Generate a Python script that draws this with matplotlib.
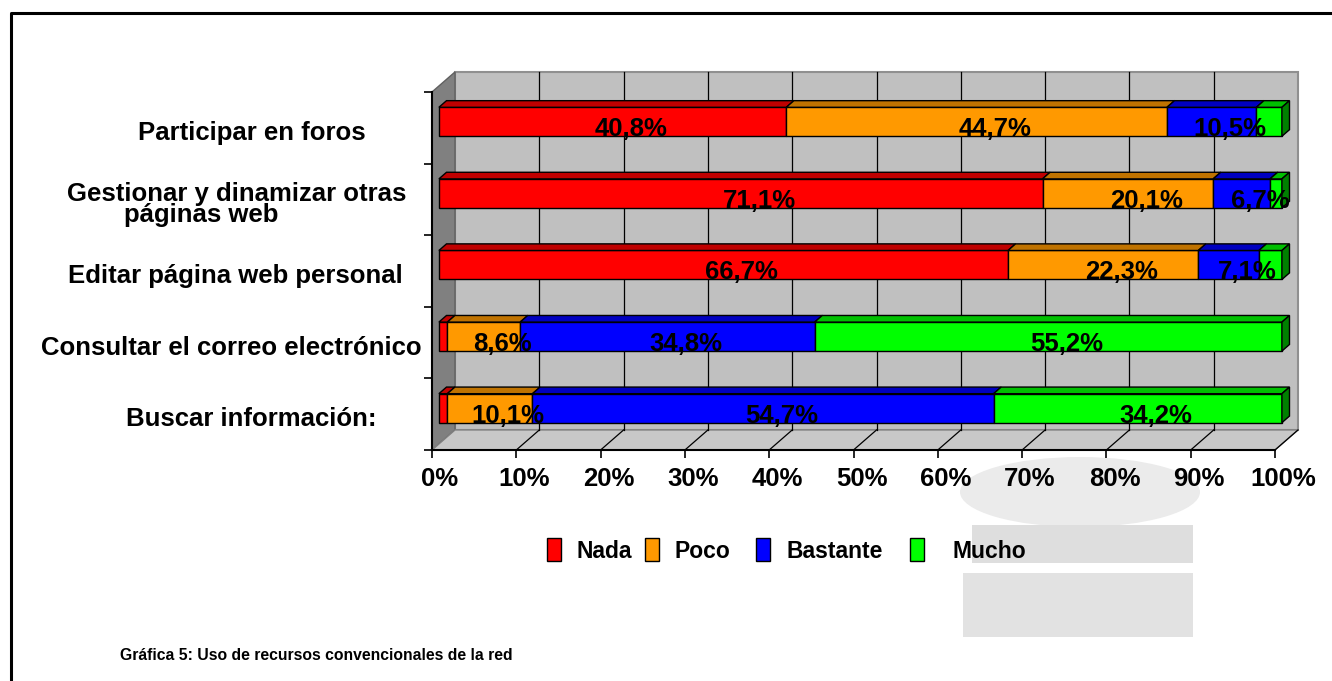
import numpy as np
import matplotlib
matplotlib.use("Agg")
import matplotlib.pyplot as plt
from matplotlib.patches import Polygon, Rectangle, Ellipse
from matplotlib.transforms import Affine2D, ScaledTranslation

plt.rcParams['font.family'] = ['Liberation Sans', 'DejaVu Sans']
plt.rcParams['font.weight'] = 'bold'

# data (bottom to top)
categories = ["Buscar información:", "Consultar el correo electrónico",
              "Editar página web personal",
              "Gestionar y dinamizar otras\n        páginas web",
              "Participar en foros"]
series = ["Nada", "Poco", "Bastante", "Mucho"]
nada = [1.0, 1.0, 66.7, 71.1, 40.8]
poco = [10.1, 8.6, 22.3, 20.1, 44.7]
bastante = [54.7, 34.8, 7.1, 6.7, 10.5]
mucho = [34.2, 55.2, 2.7, 1.4, 3.0]
xticks = [0, 10, 20, 30, 40, 50, 60, 70, 80, 90, 100]
caption = "Gráfica 5: Uso de recursos convencionales de la red"

front = ["#FF0000", "#FF9900", "#0000FF", "#00FF00"]
top = ["#C00000", "#C07300", "#0000C0", "#00C000"]
side = ["#800000", "#805000", "#000080", "#008000"]

W, H = 1332, 681
fig = plt.figure(figsize=(W / 100, H / 100), dpi=100)
px = Affine2D().scale(1 / W, -1 / H).translate(0, 1) + fig.transFigure

# faint watermark behind everything
wm_shapes = [(Ellipse((1080, 492), 240, 70), "#EBEBEB"),
             (Rectangle((972, 525), 221, 38), "#DEDEDE"),
             (Rectangle((963, 573), 230, 64), "#E2E2E2")]
for p, c in wm_shapes:
    p.set_transform(px)
    p.set_facecolor(c)
    p.set_edgecolor("none")
    p.set_zorder(0)
    fig.add_artist(p)

ax = fig.add_axes([432 / W, (H - 450) / H, 843 / W, 358 / H])
ax.set_xlim(0, 100)
ax.set_ylim(0, 5)
ax.patch.set_visible(False)
for s in ["top", "right"]:
    ax.spines[s].set_visible(False)
for s in ["left", "bottom"]:
    ax.spines[s].set_linewidth(1.5)
    ax.spines[s].set_zorder(10)

# depth of the 3D box in data units
dx, dy = 2.73, 0.28
n = len(categories)

def poly(pts, fc, ec="none", lw=1.0, z=1):
    ax.add_patch(Polygon(pts, closed=True, facecolor=fc, edgecolor=ec,
                         linewidth=lw, zorder=z, clip_on=False))

# walls and floor
poly([(dx, dy), (100 + dx, dy), (100 + dx, n + dy), (dx, n + dy)], "#C0C0C0", "#909090", 1.5)
poly([(0, 0), (dx, dy), (dx, n + dy), (0, n)], "#808080", "#606060", 1.0)
poly([(0, 0), (100, 0), (100 + dx, dy), (dx, dy)], "#C8C8C8", "#808080", 1.0)
for t in xticks[1:-1]:
    ax.plot([t + dx, t + dx], [dy, n + dy], color="black", lw=0.9, zorder=2, clip_on=False)
for t in xticks[1:]:
    ax.plot([t, t + dx], [0, dy], color="black", lw=0.9, zorder=2, clip_on=False)

# stacked 3D bars
vals = np.array([nada, poco, bastante, mucho])
totals = vals.sum(axis=0)
f0, f1 = 0.3, 0.63
bh = 0.405
for i in range(n):
    left = 0.0
    yb = i + 0.5 + f0 * dy - bh / 2
    for k in range(len(series)):
        w = vals[k, i] / totals[i] * 100
        x0 = left + f0 * dx
        x1 = x0 + w
        ox, oy = (f1 - f0) * dx, (f1 - f0) * dy
        poly([(x0, yb), (x1, yb), (x1, yb + bh), (x0, yb + bh)], front[k], "black", 1.0, 3)
        poly([(x0, yb + bh), (x1, yb + bh), (x1 + ox, yb + bh + oy), (x0 + ox, yb + bh + oy)],
             top[k], "black", 1.0, 3)
        if k == len(series) - 1:
            poly([(x1, yb), (x1 + ox, yb + oy), (x1 + ox, yb + bh + oy), (x1, yb + bh)],
                 side[k], "black", 1.0, 3)
        if vals[k, i] >= 5:
            ax.text(left + w / 2 + 3.0, i + 0.48, ("%.1f%%" % vals[k, i]).replace(".", ","),
                    ha="center", va="center", fontsize=18.5, fontweight="bold",
                    zorder=6, clip_on=False)
        left += w

# axes ticks
ax.set_xticks(xticks)
ax.set_xticklabels(["%d%%" % t for t in xticks], fontsize=18.5, fontweight="bold")
ax.set_yticks(range(n + 1))
ax.set_yticklabels([])
ax.tick_params(axis="both", direction="out", length=6, width=1.2, color="black")
ax.tick_params(axis="x", pad=6)
for lab in ax.get_xticklabels():
    lab.set_transform(lab.get_transform() + ScaledTranslation(0.08, 0, fig.dpi_scale_trans))

# category labels
label_x = [251, 231, 235, 237, 252]
for i, c in enumerate(categories):
    fig.text(label_x[i], 128 + 71.6 * (n - 1 - i) + 5, c, transform=px, ha="center",
             va="center", multialignment="left", fontsize=18.5, fontweight="bold",
             linespacing=0.85)

# legend
leg_sq = [547, 645, 756, 910]
leg_tx = [577, 674, 786, 953]
for k, s in enumerate(series):
    r = Rectangle((leg_sq[k], 538), 14, 23, facecolor=front[k], edgecolor="black",
                  linewidth=1.0, transform=px)
    fig.add_artist(r)
    fig.text(leg_tx[k], 552, s, transform=px, ha="left", va="center",
             fontsize=16.5, fontweight="bold")

fig.text(120, 656, caption, transform=px, ha="left", va="center", fontsize=11.3,
         fontweight="bold")

# frame around the figure
fig.add_artist(plt.Line2D([11, 11, W], [H, 13, 13], color="black", lw=2.2, transform=px))

fig.savefig("out.png", dpi=100)
